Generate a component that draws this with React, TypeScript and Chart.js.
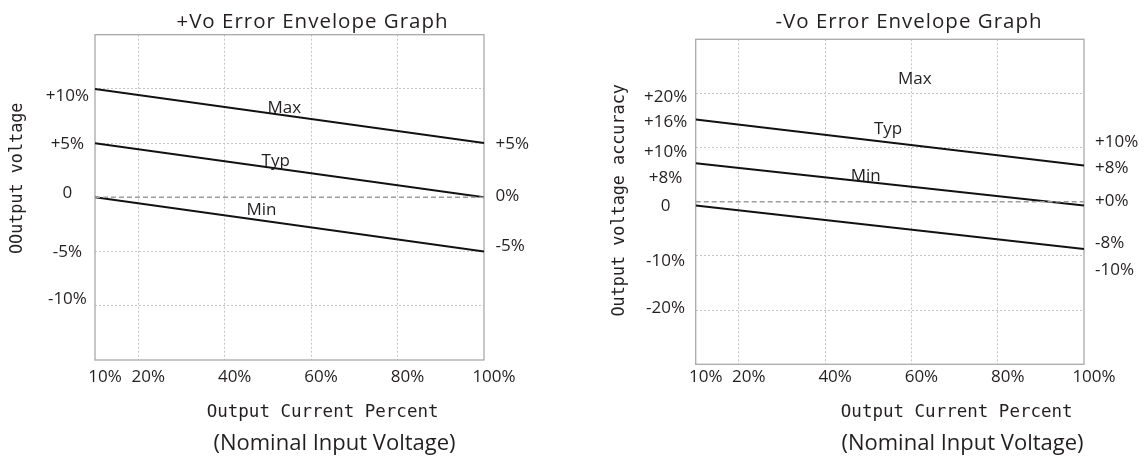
import React, { useEffect, useRef } from "react";
import { Chart, registerables } from "chart.js";
Chart.register(...registerables);

// ---------------- data ----------------
const xValues = [10, 100];
const xTickValues = [10, 20, 40, 60, 80, 100];
const xTickLabels = ["10%", "20%", "40%", "60%", "80%", "100%"];
const seriesNames = ["Max", "Typ", "Min"];

// +Vo panel
const posMax = [10, 5];
const posTyp = [5, 0];
const posMin = [0, -5];
const posZero = [0, 0];
const posGridY = [-10, -5, 0, 5, 10];
const posLeftTickLabels = ["+10%", "+5%", "0", "-5%", "-10%"];
const posLeftTickAt = [9.35, 4.9, 0.4, -5.1, -9.4];
const posRightTickLabels = ["+5%", "0%", "-5%"];
const posRightTickAt = [4.9, 0.1, -4.5];
const posNameX = [53.8, 51.8, 48.5];
const posNameY = [8.34, 3.48, -1.1];

// -Vo panel
const negMax = [15.2, 6.7];
const negTyp = [7.1, -0.7];
const negMin = [-0.7, -8.7];
const negZero = [0, 0];
const negGridY = [-20, -10, 0, 10, 20];
const negLeftTickLabels = ["+20%", "+16%", "+10%", "+8%", "0", "-10%", "-20%"];
const negLeftTickAt = [19.25, 14.7, 9.1, 4.4, -0.8, -10.9, -19.7];
const negRightTickLabels = ["+10%", "+8%", "+0%", "-8%", "-10%"];
const negRightTickAt = [10.95, 6.3, 0.05, -7.7, -12.7];
const negNameX = [60.8, 54.6, 49.4];
const negNameY = [22.86, 13.7, 5.0];

// ---------------- styles ----------------
const TEXT = "#231f20";
const GRID = "#c4c4c4";
const FRAME = "#a9a9a9";
const SANS = "'Open Sans', 'Noto Sans', sans-serif";
const MONO = "'DejaVu Sans Mono', 'Liberation Mono', monospace";

type Panel = {
  width: number;
  yMin: number;
  yMax: number;
  series: number[][];
  zero: number[];
  gridY: number[];
  leftLabels: string[];
  leftAt: number[];
  rightLabels: string[];
  rightAt: number[];
  nameX: number[];
  nameY: number[];
  padding: { left: number; right: number; top: number; bottom: number };
  xTickPad: number;
  leftPad: number;
  rightPad: number;
  title: string;
  titleX: number;
  xTitleX: number;
  subX: number;
  yTitle: string;
  yTitleX: number;
  yTitleY: number;
};

const pts = (ys: number[]) => xValues.map((x, i) => ({ x, y: ys[i] }));

function makeConfig(p: Panel): any {
  const tickFont = { family: SANS, size: 17 };
  const textPlugin = {
    id: "freeText",
    afterDraw(chart: any) {
      const ctx = chart.ctx as CanvasRenderingContext2D;
      const xs = chart.scales.x;
      const ys = chart.scales.y;
      const draw = (
        text: string,
        font: string,
        x: number,
        y: number,
        spacing = 0,
        rotate = false
      ) => {
        ctx.save();
        ctx.font = font;
        ctx.fillStyle = TEXT;
        ctx.textAlign = "center";
        ctx.textBaseline = "alphabetic";
        (ctx as any).letterSpacing = spacing + "px";
        if (rotate) {
          ctx.translate(x, y);
          ctx.rotate(-Math.PI / 2);
          ctx.fillText(text, 0, 0);
        } else {
          ctx.fillText(text, x, y);
        }
        ctx.restore();
      };
      // series names at data positions
      seriesNames.forEach((name, i) => {
        const px = xs.getPixelForValue(p.nameX[i]);
        const py = ys.getPixelForValue(p.nameY[i]) + 17 * 0.36;
        draw(name, `17px ${SANS}`, px, py);
      });
      draw(p.title, `20.5px ${SANS}`, p.titleX, 28.3, 1);
      draw("Output Current Percent", `17.5px ${MONO}`, p.xTitleX, 417.3);
      draw("(Nominal Input Voltage)", `22px ${SANS}`, p.subX, 450.3);
      draw(p.yTitle, `16.8px ${MONO}`, p.yTitleX, p.yTitleY, 0, true);
    },
  };
  const framePlugin = {
    id: "frame",
    beforeDatasetsDraw(chart: any) {
      const { left, top, right, bottom } = chart.chartArea;
      const ctx = chart.ctx as CanvasRenderingContext2D;
      ctx.save();
      ctx.strokeStyle = FRAME;
      ctx.lineWidth = 1.3;
      ctx.strokeRect(left, top, right - left, bottom - top);
      ctx.restore();
    },
  };

  const lineDs = (label: string, ys: number[]) => ({
    label,
    data: pts(ys),
    borderColor: "#111",
    borderWidth: 2,
    pointRadius: 0,
    fill: false,
    tension: 0,
    yAxisID: "y",
  });

  return {
    type: "line",
    data: {
      datasets: [
        {
          label: "zero",
          data: pts(p.zero),
          borderColor: "#9d9d9d",
          borderWidth: 1.5,
          borderDash: [5, 3],
          pointRadius: 0,
          fill: false,
          yAxisID: "y",
        },
        lineDs(seriesNames[0], p.series[0]),
        lineDs(seriesNames[1], p.series[1]),
        lineDs(seriesNames[2], p.series[2]),
      ],
    },
    options: {
      responsive: false,
      animation: false,
      events: [],
      layout: { padding: p.padding },
      plugins: {
        legend: { display: false },
        tooltip: { enabled: false },
        title: { display: false },
      },
      scales: {
        x: {
          type: "linear",
          position: "bottom",
          min: 10,
          max: 100,
          afterBuildTicks: (s: any) => {
            s.ticks = xTickValues.map((v) => ({ value: v }));
          },
          afterFit: (s: any) => {
            s.height = 30;
          },
          ticks: {
            autoSkip: false,
            maxRotation: 0,
            minRotation: 0,
            padding: p.xTickPad,
            labelOffset: 10,
            font: tickFont,
            color: TEXT,
            callback: (_v: any, i: number) => xTickLabels[i],
          },
          grid: {
            drawTicks: false,
            lineWidth: 1,
            color: (c: any) =>
              c.tick && (c.tick.value === 10 || c.tick.value === 100) ? "rgba(0,0,0,0)" : GRID,
          },
          border: { display: false, dash: [2, 2] },
        },
        y: {
          type: "linear",
          position: "left",
          min: p.yMin,
          max: p.yMax,
          afterBuildTicks: (s: any) => {
            s.ticks = p.gridY.map((v) => ({ value: v }));
          },
          afterFit: (s: any) => {
            s.width = 0;
          },
          ticks: { display: false },
          grid: {
            drawTicks: false,
            lineWidth: 1,
            color: (c: any) => (c.tick && c.tick.value === 0 ? "rgba(0,0,0,0)" : GRID),
          },
          border: { display: false, dash: [2, 2] },
        },
        yl: {
          type: "linear",
          position: "left",
          min: p.yMin,
          max: p.yMax,
          afterBuildTicks: (s: any) => {
            s.ticks = p.leftAt.map((v) => ({ value: v }));
          },
          afterFit: (s: any) => {
            s.width = 60;
          },
          ticks: {
            autoSkip: false,
            crossAlign: "center",
            padding: p.leftPad,
            font: tickFont,
            color: TEXT,
            callback: (_v: any, i: number) => p.leftLabels[i],
          },
          grid: { display: false, drawTicks: false },
          border: { display: false },
        },
        yr: {
          type: "linear",
          position: "right",
          min: p.yMin,
          max: p.yMax,
          afterBuildTicks: (s: any) => {
            s.ticks = p.rightAt.map((v) => ({ value: v }));
          },
          afterFit: (s: any) => {
            s.width = 60;
          },
          ticks: {
            autoSkip: false,
            crossAlign: "near",
            padding: p.rightPad,
            font: tickFont,
            color: TEXT,
            callback: (_v: any, i: number) => p.rightLabels[i],
          },
          grid: { display: false, drawTicks: false },
          border: { display: false },
        },
      },
    },
    plugins: [framePlugin, textPlugin],
  };
}

const posPanel: Panel = {
  width: 573,
  yMin: -15,
  yMax: 15,
  series: [posMax, posTyp, posMin],
  zero: posZero,
  gridY: posGridY,
  leftLabels: posLeftTickLabels,
  leftAt: posLeftTickAt,
  rightLabels: posRightTickLabels,
  rightAt: posRightTickAt,
  nameX: posNameX,
  nameY: posNameY,
  padding: { left: 35, right: 29, top: 34.7, bottom: 72 },
  xTickPad: 7,
  leftPad: 6,
  rightPad: 11.5,
  title: "+Vo Error Envelope Graph",
  titleX: 312.5,
  xTitleX: 322.6,
  subX: 334.5,
  yTitle: "OOutput voltage",
  yTitleX: 22.4,
  yTitleY: 178.3,
};

const negPanel: Panel = {
  width: 574,
  yMin: -30,
  yMax: 30,
  series: [negMax, negTyp, negMin],
  zero: negZero,
  gridY: negGridY,
  leftLabels: negLeftTickLabels,
  leftAt: negLeftTickAt,
  rightLabels: negRightTickLabels,
  rightAt: negRightTickAt,
  nameX: negNameX,
  nameY: negNameY,
  padding: { left: 62.7, right: 3, top: 39.3, bottom: 67.7 },
  xTickPad: 2.5,
  leftPad: 8.5,
  rightPad: 11,
  title: "-Vo Error Envelope Graph",
  titleX: 336,
  xTitleX: 383.7,
  subX: 389.5,
  yTitle: "Output voltage accuracy",
  yTitleX: 51.4,
  yTitleY: 200.3,
};

export default function App() {
  const leftRef = useRef<HTMLCanvasElement>(null);
  const rightRef = useRef<HTMLCanvasElement>(null);

  useEffect(() => {
    const c1 = new Chart(leftRef.current as HTMLCanvasElement, makeConfig(posPanel));
    const c2 = new Chart(rightRef.current as HTMLCanvasElement, makeConfig(negPanel));
    return () => {
      c1.destroy();
      c2.destroy();
    };
  }, []);

  return (
    <div
      style={{
        position: "absolute",
        left: 0,
        top: 0,
        width: 1147,
        height: 462,
        background: "#fff",
        overflow: "hidden",
      }}
    >
      <canvas
        ref={leftRef}
        width={573}
        height={462}
        style={{ position: "absolute", left: 0, top: 0, width: 573, height: 462 }}
      />
      <canvas
        ref={rightRef}
        width={574}
        height={462}
        style={{ position: "absolute", left: 573, top: 0, width: 574, height: 462 }}
      />
    </div>
  );
}
